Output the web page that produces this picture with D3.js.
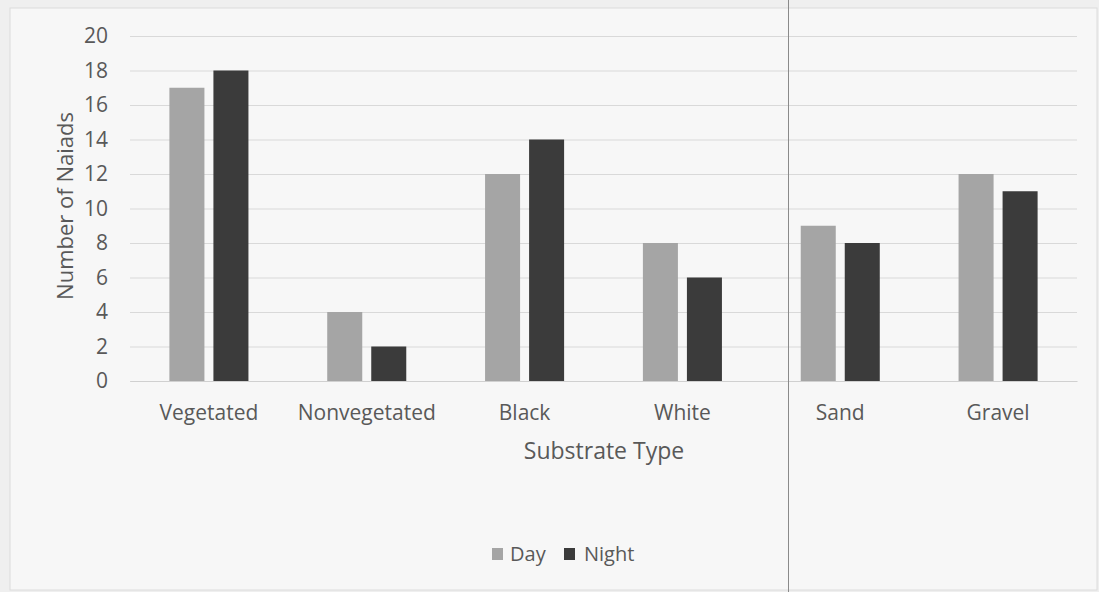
<!DOCTYPE html>
<html><head><meta charset="utf-8">
<script src="https://cdn.jsdelivr.net/npm/d3@7"></script>
<style>body{margin:0;background:#eeeeee;}svg{display:block;}</style>
</head><body>
<svg id="c" width="1099" height="592"></svg>
<script>
const categories = ["Vegetated","Nonvegetated","Black","White","Sand","Gravel"];
const seriesNames = ["Day","Night"];
const dayValues = [17,4,12,8,9,12];
const nightValues = [18,2,14,6,8,11];
const yTicks = [0,2,4,6,8,10,12,14,16,18,20];
const colors = {Day:"#a5a5a5", Night:"#3b3b3b"};

const svg = d3.select("#c");
const W=1099,H=592;
const font = "'Open Sans', sans-serif";
const textCol = "#595959";

svg.append("rect").attr("x",0).attr("y",0).attr("width",W).attr("height",H).attr("fill","#efefef");
svg.append("rect").attr("x",10).attr("y",8).attr("width",1087).attr("height",582)
  .attr("fill","#f7f7f7").attr("stroke","#dcdcdc").attr("stroke-width",1);

const m = {left:130,right:1077,top:36,bottom:381};
const x = d3.scaleBand().domain(categories).range([m.left,m.right]).paddingInner(0).paddingOuter(0);
const xs = d3.scaleBand().domain(seriesNames).range([0,x.bandwidth()]).paddingInner(0.2045).paddingOuter(0.895);
const y = d3.scaleLinear().domain([0,20]).range([m.bottom,m.top]);

// gridlines
const yAxis = d3.axisLeft(y).tickValues(yTicks).tickSize(-(m.right-m.left)).tickPadding(22);
const ga = svg.append("g").attr("transform",`translate(${m.left},0)`).call(yAxis);
ga.select(".domain").remove();
ga.selectAll(".tick line").attr("stroke","#d9d9d9").attr("stroke-width",1.2);
ga.selectAll(".tick text").attr("fill",textCol).style("font-family",font).style("font-size","21px");

// bars
const data = categories.map((c,i)=>({c, vals:[{s:"Day",v:dayValues[i]},{s:"Night",v:nightValues[i]}]}));
const g = svg.append("g");
g.selectAll("g.cat").data(data).join("g").attr("class","cat")
 .attr("transform",d=>`translate(${x(d.c)},0)`)
 .selectAll("rect").data(d=>d.vals).join("rect")
 .attr("x",d=>xs(d.s)).attr("width",xs.bandwidth())
 .attr("y",d=>y(d.v)).attr("height",d=>y(0)-y(d.v))
 .attr("fill",d=>colors[d.s]);

// x axis
const xAxis = d3.axisBottom(x).tickSize(0).tickPadding(24);
const gx = svg.append("g").attr("transform",`translate(0,${m.bottom})`).call(xAxis);
gx.select(".domain").attr("stroke","#d0d0d0").attr("stroke-width",1.2);
gx.selectAll(".tick text").attr("fill",textCol).style("font-family",font).style("font-size","21px");

// axis titles
svg.append("text").attr("x",604).attr("y",459).attr("text-anchor","middle")
  .attr("fill",textCol).style("font-family",font).style("font-size","23px").text("Substrate Type");
svg.append("text").attr("transform","translate(73,206) rotate(-90)").attr("text-anchor","middle")
  .attr("fill",textCol).style("font-family",font).style("font-size","22px").text("Number  of Naiads");

// legend
const lg = svg.append("g");
const legX = [492,564];
seriesNames.forEach((s,i)=>{
  lg.append("rect").attr("x",legX[i]).attr("y",548).attr("width",11).attr("height",12).attr("fill",colors[s]);
  lg.append("text").attr("x",legX[i]+(i===0?18:20)).attr("y",561).attr("fill",textCol)
    .style("font-family",font).style("font-size","20px").text(s);
});

// vertical divider line
svg.append("line").attr("x1",788.5).attr("x2",788.5).attr("y1",0).attr("y2",592)
  .attr("stroke","#8a8a8a").attr("stroke-width",1);
</script>
</body></html>
